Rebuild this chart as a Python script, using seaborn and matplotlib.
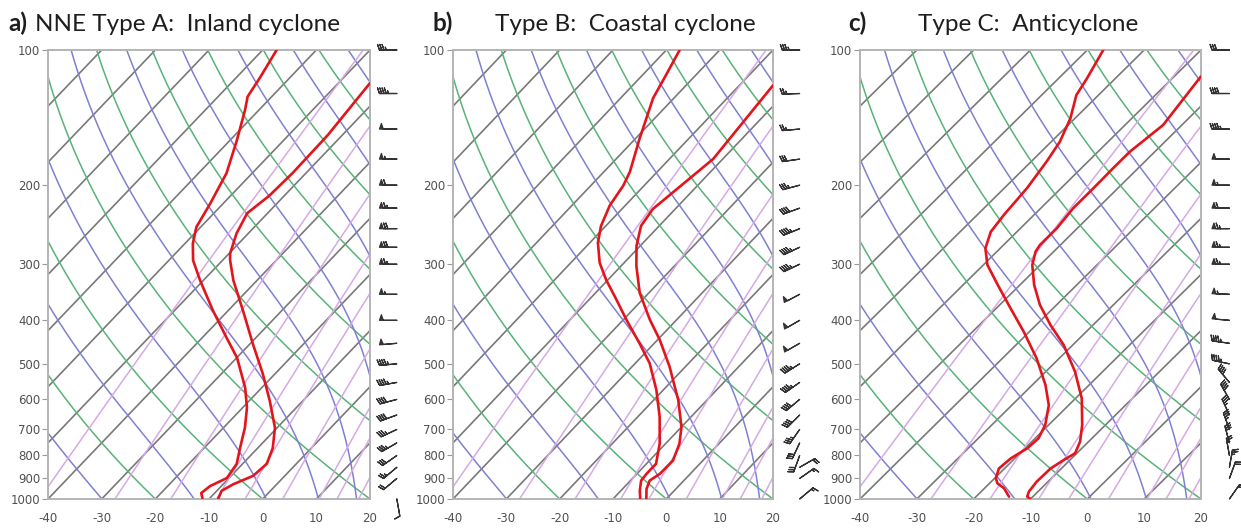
import numpy as np
import matplotlib
matplotlib.use("Agg")
import matplotlib.pyplot as plt
import seaborn as sns
import pandas as pd

# ---------------- data ----------------
titles_tag = ["a)", "b)", "c)"]
titles_txt = ["NNE Type A:  Inland cyclone", "Type B:  Coastal cyclone", "Type C:  Anticyclone"]

x_ticks = [-40, -30, -20, -10, 0, 10, 20]
p_ticks = [100, 200, 300, 400, 500, 600, 700, 800, 900, 1000]

# Panel a: temperature profile (hPa, degC)
a_t_p = [118.6, 154.8, 188, 211, 231, 256, 284, 294, 326, 380, 451, 526, 604, 694, 770, 835, 888, 927, 959, 1000]
a_t = [-54.1, -52.7, -52.5, -52.8, -53.8, -52.2, -49.8, -48.6, -44.4, -37.3, -29.5, -22.3, -16.2, -10.4,
       -7.2, -5.5, -5.9, -8.1, -9.1, -8.3]
# Panel a: dewpoint profile
a_d_p = [100, 115, 127, 136, 159, 188, 220, 248, 270, 294, 326, 380, 437, 485, 565, 626, 694, 770, 835,
         898, 936, 970, 995]
a_d = [-77.4, -75.6, -74.5, -72.6, -68.7, -64.8, -62.4, -60.8, -58.5, -55.5, -50.6, -42.9, -35.5, -29.9,
       -23.1, -19.2, -16.0, -13.3, -11.1, -10.4, -12.1, -12.5, -11.4]

# Panel b
b_t_p = [119.8, 174.8, 190.5, 207.6, 226, 246.5, 273, 303, 347.6, 399, 442, 507, 602, 691, 753, 821, 879,
         910, 950, 1000]
b_t = [-53.7, -51.8, -52.6, -53.4, -54.2, -53.4, -50.7, -47.1, -41.7, -35.0, -29.6, -23.0, -15.4, -10.0,
       -7.4, -5.6, -5.7, -6.4, -5.5, -3.75]
b_d_p = [100, 113.7, 128, 157.7, 187, 200.6, 222, 246.5, 268.6, 297.7, 324.6, 359.6, 399, 449.8, 498.6,
         571.6, 656, 753, 835, 879, 910, 957, 1000]
b_d = [-77.5, -75.6, -73.9, -69.2, -65.1, -63.9, -62.9, -60.9, -58.5, -54.6, -50.4, -44.9, -39.4, -32.8,
       -27.3, -21.3, -15.9, -11.1, -8.2, -8.2, -8.0, -6.5, -4.9]

# Panel c
c_t_p = [114.6, 146.9, 168.5, 183.5, 203, 225, 249.5, 271.8, 281, 301, 333.6, 369.8, 409.6, 453.9, 520,
         597, 684, 745, 791, 819, 855, 915, 963, 988, 1000]
c_t = [-55.3, -53.3, -54.4, -54.4, -54.3, -54.3, -53.6, -53.6, -53.2, -51.4, -47.5, -42.9, -37.5, -31.6,
       -24.9, -18.9, -14.1, -11.5, -10.3, -11.1, -11.9, -12.0, -11.6, -11.0, -10.0]
c_d_p = [100, 115.7, 126, 142, 160, 177, 203, 233, 254, 276.5, 301, 333.6, 376, 424, 486, 557, 618, 684,
         733, 771, 812, 855, 899, 923, 946, 988]
c_d = [-77.2, -75.0, -73.9, -70.8, -68.5, -67.3, -66.0, -65.3, -64.6, -62.6, -59.3, -53.9, -47.5, -41.0,
       -34.0, -27.7, -23.5, -20.6, -19.4, -19.6, -20.7, -21.0, -19.8, -18.6, -16.6, -14.2]

# Wind barbs (levels hPa, speed kt, direction deg)
barb_p = [100, 125, 150, 175, 200, 225, 250, 275, 300, 350, 400, 450, 500, 550, 600, 650, 700, 750, 800,
          850, 900, 1000]
a_spd = [35, 45, 50, 55, 60, 65, 70, 70, 65, 55, 50, 50, 45, 45, 40, 40, 35, 35, 30, 25, 20, 10]
a_dir = [270, 270, 270, 270, 270, 270, 270, 270, 270, 270, 270, 265, 265, 260, 255, 250, 245, 240, 235,
         230, 230, 170]
b_spd = [35, 25, 25, 30, 35, 40, 45, 45, 45, 50, 50, 50, 45, 45, 40, 40, 35, 30, 30, 20, 15, 15]
b_dir = [270, 268, 265, 262, 255, 250, 248, 245, 245, 242, 240, 240, 238, 235, 230, 225, 215, 205, 200,
         60, 55, 50]
c_spd = [30, 40, 45, 50, 55, 60, 65, 65, 65, 55, 50, 45, 45, 40, 40, 35, 35, 30, 25, 25, 20, 15]
c_dir = [270, 270, 270, 270, 270, 270, 270, 270, 270, 272, 275, 278, 282, 320, 330, 335, 340, 345, 350,
         10, 20, 35]

# ---------------- diagram grid parameters ----------------
SKEW = 80.0
isotherm_vals = np.arange(-170, 41, 10)
theta_vals_c = np.arange(-40, 221, 20)
theta_e_vals = np.arange(224, 465, 20)
mix_ratio_gkg = [0.1, 0.4, 1, 2, 3, 5, 8, 10, 13]

C_ISO = "#6a6a6a"
C_DRY = "#58b377"
C_MOIST = "#8080d2"
C_MIX = "#d6a9e4"
C_RED = "#e3141b"
C_TXT = "#505050"


def skew_x(T, p):
    return np.asarray(T, float) + SKEW * np.log10(1000.0 / np.asarray(p, float))


P = np.logspace(np.log10(1000), np.log10(100), 200)


def es_hpa(Tc):
    return 6.112 * np.exp(17.67 * Tc / (Tc + 243.5))


def theta_e(Tk, p):
    Tc = Tk - 273.15
    e = es_hpa(Tc)
    rs = 0.622 * e / (p - e)
    return Tk * (1000.0 / p) ** 0.2857 * np.exp(2.5e6 * rs / (1004.0 * Tk))


def moist_T(te, p):
    lo = np.full_like(p, 120.0)
    hi = np.full_like(p, 330.0)
    for _ in range(60):
        mid = 0.5 * (lo + hi)
        f = theta_e(mid, p) - te
        hi = np.where(f > 0, mid, hi)
        lo = np.where(f > 0, lo, mid)
    return 0.5 * (lo + hi) - 273.15


def mix_T(w_gkg, p):
    w = w_gkg / 1000.0
    e = w * p / (0.622 + w)
    ln = np.log(e / 6.112)
    return 243.5 * ln / (17.67 - ln)


sns.set_theme(style="white")
plt.rcParams['font.family'] = ['DejaVu Sans']

fig = plt.figure(figsize=(12.41, 5.28), dpi=100)
W, H = 1241.0, 528.0
rects = [(48, 370), (453, 773), (860, 1201)]
top_px, bot_px = 50, 499

profiles = [
    (a_t_p, a_t, a_d_p, a_d, a_spd, a_dir),
    (b_t_p, b_t, b_d_p, b_d, b_spd, b_dir),
    (c_t_p, c_t, c_d_p, c_d, c_spd, c_dir),
]
title_pos = [(8, 35), (432, 495), (848, 918)]

for i, ((l, r), prof) in enumerate(zip(rects, profiles)):
    ax = fig.add_axes([l / W, 1 - bot_px / H, (r - l) / W, (bot_px - top_px) / H])
    ax.set_yscale('log')
    ax.set_xlim(-40, 20)
    ax.set_ylim(1000, 100)

    # background lines
    for T in isotherm_vals:
        ax.plot(skew_x(np.full_like(P, T), P), P, color=C_ISO, lw=1.2, alpha=0.9, zorder=1)
    for th in theta_vals_c:
        T = (th + 273.15) * (P / 1000.0) ** 0.2857 - 273.15
        ax.plot(skew_x(T, P), P, color=C_DRY, lw=1.1, zorder=1)
    for te in theta_e_vals:
        T = moist_T(te, P)
        ax.plot(skew_x(T, P), P, color=C_MOIST, lw=1.1, zorder=1)
    for w in mix_ratio_gkg:
        T = mix_T(w, P)
        ax.plot(skew_x(T, P), P, color=C_MIX, lw=1.1, zorder=1)

    tp, tt, dp, dd, spd, wdir = prof
    df_t = pd.DataFrame({"x": skew_x(tt, tp), "p": tp})
    df_d = pd.DataFrame({"x": skew_x(dd, dp), "p": dp})
    sns.lineplot(data=df_t, x="x", y="p", sort=False, estimator=None, color=C_RED, lw=1.9, ax=ax, zorder=5)
    sns.lineplot(data=df_d, x="x", y="p", sort=False, estimator=None, color=C_RED, lw=1.9, ax=ax, zorder=5)

    # wind barbs
    spd = np.asarray(spd, float)
    rad = np.deg2rad(np.asarray(wdir, float))
    u = -spd * np.sin(rad)
    v = -spd * np.cos(rad)
    bx = np.full(len(barb_p), 25.0)
    ax.barbs(bx, barb_p, u, v, length=5.0, linewidth=0.9, color="#333333", clip_on=False, zorder=6,
             sizes=dict(spacing=0.13, height=0.32, width=0.22))

    ax.set_xlim(-40, 20)
    ax.set_ylim(1000, 100)
    ax.set_xticks(x_ticks)
    ax.set_xticklabels([str(v) for v in x_ticks])
    ax.set_yticks(p_ticks)
    ax.set_yticklabels([str(v) for v in p_ticks])
    ax.yaxis.set_minor_locator(matplotlib.ticker.NullLocator())
    ax.set_xlabel("")
    ax.set_ylabel("")
    ax.tick_params(axis='x', length=0, pad=9, labelsize=8.5, labelcolor=C_TXT)
    ax.tick_params(axis='y', length=4, width=0.8, color="#999999", pad=1.5, labelsize=8.5, labelcolor=C_TXT,
                   left=True)
    for s in ax.spines.values():
        s.set_color("#b4b4b4")
        s.set_linewidth(1.4)
    if ax.get_legend() is not None:
        ax.get_legend().remove()

    tx, tx2 = title_pos[i]
    fig.text(tx / W, 1 - 31 / H, titles_tag[i], fontsize=17.5, fontweight='bold', family='Lato',
             color="#1e1e1e", ha='left', va='baseline')
    fig.text(tx2 / W, 1 - 31 / H, titles_txt[i], fontsize=17.5, family='Lato', color="#1e1e1e",
             ha='left', va='baseline')

fig.savefig("out.png", dpi=100)
